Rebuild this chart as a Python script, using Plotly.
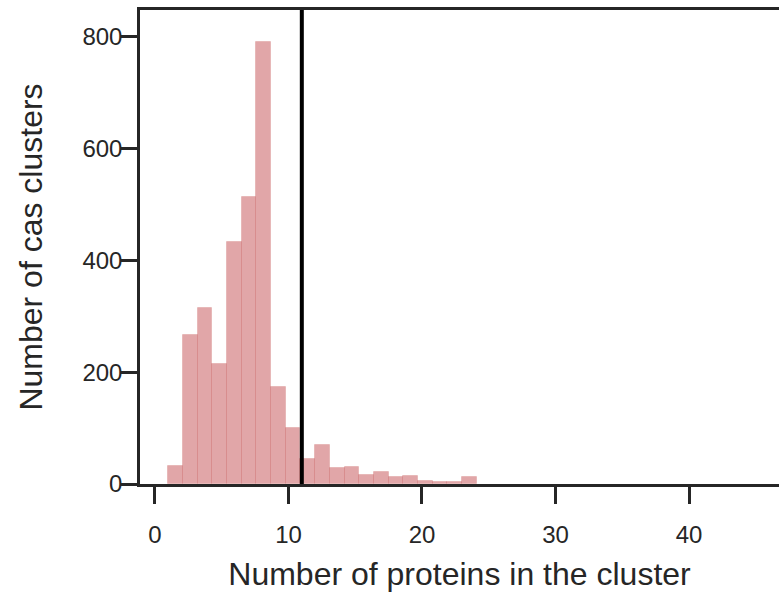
import plotly.graph_objects as go

# Histogram data (bins of width 1.1 starting at 1)
bin_start = 1.0
bin_width = 1.1
counts = [33, 267, 315, 214, 433, 514, 790, 173, 100, 45, 70, 28, 31, 16, 21, 13, 15, 6, 3, 3, 13]
threshold = 11
x_ticks = [0, 10, 20, 30, 40]
y_ticks = [0, 200, 400, 600, 800]

centers = [bin_start + bin_width * (i + 0.5) for i in range(len(counts))]

axis_color = "#262626"
font_family = "Liberation Sans, Arial, sans-serif"

fig = go.Figure()
fig.add_trace(go.Bar(
    x=centers, y=counts, width=[bin_width] * len(counts),
    marker=dict(color="rgba(196,78,82,0.5)",
                line=dict(color="rgba(196,78,82,0.2)", width=1)),
    showlegend=False,
))

fig.add_shape(type="line", x0=threshold, x1=threshold, y0=0, y1=1,
              xref="x", yref="y domain", line=dict(color="black", width=4))

fig.update_layout(
    width=779, height=592,
    margin=dict(l=140, r=0, t=10, b=108),
    plot_bgcolor="white", paper_bgcolor="white",
    bargap=0,
    font=dict(family=font_family, color=axis_color),
    xaxis=dict(
        range=[-1.12, 46.74], tickvals=x_ticks, automargin=False,
        showline=True, linecolor=axis_color, linewidth=2.5, mirror=True,
        ticks="outside", ticklen=17, tickwidth=2.5, tickcolor=axis_color,
        showgrid=False, zeroline=False, ticklabelstandoff=10,
        tickfont=dict(size=24, color=axis_color),
        title=dict(text="Number of proteins in the cluster",
                   font=dict(size=32, color=axis_color), standoff=17),
    ),
    yaxis=dict(
        range=[0, 848], tickvals=y_ticks, automargin=False,
        showline=True, linecolor=axis_color, linewidth=2.5, mirror=False,
        ticks="outside", ticklen=17, tickwidth=2.5, tickcolor=axis_color,
        showgrid=False, zeroline=False, ticklabelstandoff=-7,
        tickfont=dict(size=24, color=axis_color),
        title=dict(text="Number of cas clusters",
                   font=dict(size=32, color=axis_color), standoff=31),
    ),
)

fig.write_html("out.html", config={"displayModeBar": False},
               post_script="document.body.style.margin='0';")
